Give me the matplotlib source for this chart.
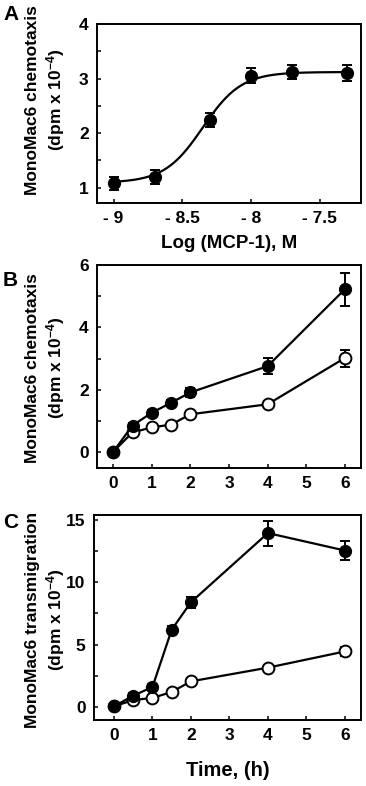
import matplotlib
matplotlib.use("Agg")
import matplotlib.pyplot as plt
import numpy as np
from matplotlib.ticker import MultipleLocator

plt.rcParams['font.family'] = ['Liberation Sans', 'DejaVu Sans']
plt.rcParams['font.weight'] = 'bold'
plt.rcParams['mathtext.fontset'] = 'custom'
plt.rcParams['mathtext.rm'] = 'Liberation Sans:bold'
plt.rcParams['mathtext.it'] = 'Liberation Sans:bold'
plt.rcParams['mathtext.bf'] = 'Liberation Sans:bold'
plt.rcParams['mathtext.sf'] = 'Liberation Sans:bold'

# Panel A: dose response
logc = [-9.0, -8.7, -8.3, -8.0, -7.7, -7.3]
chemo_a = [1.08, 1.19, 2.24, 3.05, 3.12, 3.10]
chemo_a_err = [0.12, 0.13, 0.12, 0.14, 0.12, 0.15]
# fitted sigmoid parameters (bottom, top, logEC50, hill)
fit_bottom, fit_top, fit_ec50, fit_hill = 1.09, 3.12, -8.35, 3.1
a_xticks = [-9, -8.5, -8, -7.5]
a_xticklabels = ['- 9', '- 8.5', '- 8', '- 7.5']

# Panel B: chemotaxis time course
time = [0, 0.5, 1, 1.5, 2, 4, 6]
chemo_filled = [0.02, 0.86, 1.27, 1.59, 1.92, 2.76, 5.22]
chemo_filled_err = [0.0, 0.08, 0.08, 0.08, 0.14, 0.26, 0.52]
chemo_open = [0.02, 0.64, 0.80, 0.89, 1.22, 1.54, 3.02]
chemo_open_err = [0.0, 0.05, 0.05, 0.05, 0.06, 0.06, 0.27]

# Panel C: transmigration time course
trans_filled = [0.05, 0.90, 1.60, 6.20, 8.40, 13.95, 12.55]
trans_filled_err = [0.0, 0.2, 0.2, 0.3, 0.45, 1.0, 0.8]
trans_open = [0.05, 0.55, 0.72, 1.20, 2.05, 3.15, 4.45]
trans_open_err = [0.0, 0.05, 0.05, 0.08, 0.1, 0.1, 0.35]
time_ticks = [0, 1, 2, 3, 4, 5, 6]

W, H = 366, 786
fig = plt.figure(figsize=(W / 100, H / 100), dpi=100)


def add_ax(l, r, t, b):
    return fig.add_axes([l / W, 1 - b / H, (r - l) / W, (b - t) / H])


def style(ax):
    for s in ax.spines.values():
        s.set_linewidth(1.4)
    ax.tick_params(axis='both', which='both', direction='in', width=1.1,
                   length=3, labelsize=12.5, pad=6)
    for lab in ax.get_xticklabels() + ax.get_yticklabels():
        lab.set_fontweight('bold')


ms = 8.5
lw = 1.6
ekw = dict(capsize=3.5, elinewidth=1.4, capthick=1.4)

# ---- A
axA = add_ax(97, 361, 24, 203)
xs = np.linspace(-9.0, -7.3, 200)
ys = fit_bottom + (fit_top - fit_bottom) / (1 + 10 ** ((fit_ec50 - xs) * fit_hill))
axA.plot(xs, ys, color='black', lw=lw, zorder=2)
axA.errorbar(logc, chemo_a, yerr=chemo_a_err, fmt='o', color='black', ms=ms,
             zorder=3, **ekw)
axA.set_xlim(-9.12, -7.2)
axA.set_ylim(0.72, 4.0)
axA.set_xticks(a_xticks)
axA.set_xticklabels(a_xticklabels)
axA.set_yticks([1, 2, 3, 4])
axA.yaxis.set_minor_locator(MultipleLocator(0.5))
style(axA)
axA.set_xlabel('Log (MCP-1), M', fontsize=13.5, fontweight='bold', labelpad=6)

# ---- B
axB = add_ax(97, 361, 265, 468)
axB.errorbar(time, chemo_open, yerr=chemo_open_err, fmt='-o', color='black',
             mfc='white', mec='black', mew=1.4, ms=ms, lw=lw, zorder=2, **ekw)
axB.errorbar(time, chemo_filled, yerr=chemo_filled_err, fmt='-o', color='black',
             ms=ms, lw=lw, zorder=3, **ekw)
axB.set_xlim(-0.42, 6.42)
axB.set_ylim(-0.5, 6.0)
axB.set_xticks(time_ticks)
axB.set_yticks([0, 2, 4, 6])
axB.yaxis.set_minor_locator(MultipleLocator(1))
style(axB)

# ---- C
axC = add_ax(94, 361, 515, 720)
axC.errorbar(time, trans_open, yerr=trans_open_err, fmt='-o', color='black',
             mfc='white', mec='black', mew=1.4, ms=ms, lw=lw, zorder=2, **ekw)
axC.errorbar(time, trans_filled, yerr=trans_filled_err, fmt='-o', color='black',
             ms=ms, lw=lw, zorder=3, **ekw)
axC.set_xlim(-0.52, 6.42)
axC.set_ylim(-1.05, 15.4)
axC.set_xticks(time_ticks)
axC.set_yticks([0, 5, 10, 15])
axC.yaxis.set_minor_locator(MultipleLocator(2.5))
style(axC)
axC.set_xlabel('Time, (h)', fontsize=14.5, fontweight='bold', labelpad=13)

# y labels
ylab_size = 12.5
for yc, top_line in [(100, 'MonoMac6 chemotaxis'), (368, 'MonoMac6 chemotaxis'),
                     (620, 'MonoMac6 transmigration')]:
    fig.text(33 / W, 1 - yc / H, top_line, rotation=90, ha='center',
             va='center', fontsize=ylab_size, fontweight='bold')
    fig.text(56 / W, 1 - yc / H, r'(dpm x 10$^{-4}$)', rotation=90, ha='center',
             va='center', fontsize=ylab_size, fontweight='bold')

# panel letters
for letter, y in [('A', 15), ('B', 280), ('C', 523)]:
    fig.text(3 / W, 1 - y / H, letter, ha='left', va='center', fontsize=15,
             fontweight='bold')

fig.savefig('out.png', dpi=100)
